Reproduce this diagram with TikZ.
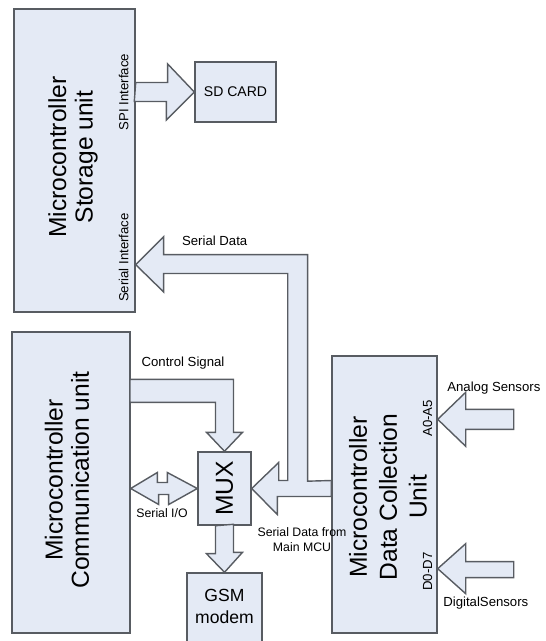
\documentclass[tikz,border=0pt]{standalone}
\usepackage{fontspec}
\setmainfont{Liberation Sans}
\usetikzlibrary{calc}
\definecolor{boxfill}{RGB}{228,234,245}
\definecolor{boxline}{RGB}{88,92,98}

\begin{document}
\begin{tikzpicture}[x=0.02cm, y=-0.02cm,
    unit/.style={draw=boxline, fill=boxfill, line width=0.8pt, inner sep=0pt},
    blk/.style={draw=boxline, fill=boxfill, line width=0.8pt, line join=miter},
    big/.style={font=\fontsize{14}{15}\selectfont, align=center, rotate=90},
    lbl/.style={font=\fontsize{7.5}{8.5}\selectfont, inner sep=0pt}]
    \useasboundingbox (0,0) rectangle (545,641);

    % blocks
    \node[unit, minimum width=2.42cm, minimum height=6.06cm] (store) at (74.5,160.5) {};
    \node[unit, minimum width=1.62cm, minimum height=1.2cm] (sd) at (235.5,92) {};
    \node[unit, minimum width=2.36cm, minimum height=6.02cm] (comm) at (71,482.5) {};
    \node[unit, minimum width=1.06cm, minimum height=1.46cm] (mux) at (224.5,488.5) {};
    \node[unit, minimum width=1.5cm, minimum height=1.44cm] (gsm) at (224.5,609) {};
    \node[unit, minimum width=2.1cm, minimum height=5.54cm] (dcu) at (384.5,494.5) {};

    \node[big] (storetxt) at (73,157) {Microcontroller\\Storage unit};
    \node[big] (commtxt) at (67,480) {Microcontroller\\Communication unit};
    \node[big, font=\fontsize{14}{17}\selectfont] (dcutxt) at (388,497) {Microcontroller\\Data Collection\\Unit};
    \node[rotate=90, font=\fontsize{14}{16}\selectfont] (muxtxt) at (mux.center) {MUX};
    \node[align=center, font=\fontsize{10}{13}\selectfont] (gsmtxt) at ($(gsm.center)+(0,-2.5)$) {GSM\\modem};
    \node[font=\fontsize{8}{9}\selectfont] (sdtxt) at (sd.center) {SD CARD};

    \coordinate (sertip) at ($(store.south east)+(0,-48)$);
    \coordinate (atip) at ($(dcu.north east)+(0,64)$);
    \coordinate (dtip) at ($(dcu.south east)+(0,-65)$);

    % block arrows
    \draw[blk] (store.east |- sd.west) ++(0,-9.5) -- ++(32,0) -- ++(0,-18.5) -- (sd.west)
        -- ++(-28,28) -- ++(0,-18.5) -- ++(-32,0) -- cycle;
    \draw[blk] (mux.east) -- ++(27,-26) -- ++(0,18) -- ++(9,0) -- ++(0,-207) -- ++(-124,0)
        -- ++(0,18.5) -- (sertip) -- ++(28,-28) -- ++(0,18) -- ++(144,0) -- ++(0,226.5)
        -- ($(dcu.west |- mux.east)+(0,-8)$) -- ++(0,16) -- ++(-54,0) -- ++(0,18) -- cycle;
    \draw[blk] (mux.north) -- ++(-18,-19) -- ++(9,0) -- ++(0,-30) -- ++(-85.5,0)
        -- ++(0,-23) -- ++(103.5,0) -- ++(0,53) -- ++(9,0) -- cycle;
    \draw[blk] (mux.west) -- ++(-30,-16) -- ++(0,10) -- ++(-10,0) -- ++(0,-10)
        -- (comm.east |- mux.west) -- ++(28,16) -- ++(0,-10) -- ++(10,0) -- ++(0,10) -- cycle;
    \draw[blk] (mux.south) ++(-9,0) -- ++(0,28) -- ++(-9,0) -- (mux.south |- gsm.north)
        -- ++(18,-20) -- ++(-9,0) -- ++(0,-28) -- cycle;
    \draw[blk] (atip) -- ++(28,-27) -- ++(0,17) -- ++(48,0) -- ++(0,20) -- ++(-48,0) -- ++(0,17) -- cycle;
    \draw[blk] (dtip) -- ++(28,-25) -- ++(0,18) -- ++(48,0) -- ++(0,16) -- ++(-48,0) -- ++(0,16) -- cycle;

    % labels
    \node[lbl, rotate=90] (spilbl) at ($(store.east |- sd.west)+(-12,0)$) {SPI Interface};
    \node[lbl, rotate=90] (serlbl) at ($(sertip)+(-12,-7)$) {Serial Interface};
    \node[lbl] (serdata) at ($(sertip)+(79,-24)$) {Serial Data};
    \node[lbl] (ctrl) at (183,363) {Control Signal};
    \node[lbl, font=\fontsize{7}{8}\selectfont] (sio) at (162,513) {Serial I/O};
    \node[lbl, align=center, font=\fontsize{7}{8.5}\selectfont] (frommcu) at (302,540) {Serial Data from\\Main MCU};
    \node[lbl, rotate=90] (alabel) at ($(atip)+(-10,-1)$) {A0-A5};
    \node[lbl, rotate=90] (dlabel) at ($(dtip)+(-10,3)$) {D0-D7};
    \node[lbl, anchor=west] (analog) at (447,388) {Analog Sensors};
    \node[lbl, anchor=west] (digital) at (443,603) {DigitalSensors};
\end{tikzpicture}
\end{document}
